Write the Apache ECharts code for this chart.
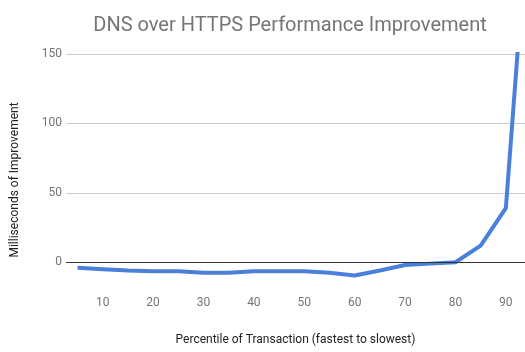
<!DOCTYPE html>
<html>
<head>
<meta charset="utf-8">
<script src="https://cdn.jsdelivr.net/npm/echarts@6/dist/echarts.min.js"></script>
<style>
    html, body { margin: 0; padding: 0; background: #fff; }
    #chart { width: 525px; height: 352px; }
</style>
</head>
<body>
<div id="chart"></div>
<script>
// percentile of transaction
const percentiles = [5, 10, 15, 20, 25, 30, 35, 40, 45, 50, 55, 60, 65, 70, 75, 80, 85, 90, 95];
// milliseconds of improvement (last one runs off the top of the chart)
const improvement = [-4, -5, -6, -6.5, -6.5, -7.5, -7.5, -6.5, -6.5, -6.5, -7.5, -9.5, -6, -2, -1, 0, 12, 39, 280];
const xTicks = [10, 20, 30, 40, 50, 60, 70, 80, 90];
const yTicks = [0, 50, 100, 150];

const chart = echarts.init(document.getElementById('chart'));
const option = {
    animation: false,
    title: {
        text: 'DNS over HTTPS Performance Improvement',
        left: 285,
        top: 11,
        textAlign: 'center',
        textStyle: {
            fontFamily: 'Roboto',
            fontSize: 20,
            fontWeight: 'normal',
            color: '#757575'
        }
    },
    grid: {
        left: 66,
        right: 0,
        top: 54,
        bottom: 62
    },
    xAxis: {
        type: 'value',
        min: 2.72,
        max: 93.8,
        name: 'Percentile of Transaction (fastest to slowest)',
        nameLocation: 'middle',
        nameGap: 44,
        nameTextStyle: { fontFamily: 'Roboto', fontSize: 12, color: '#222' },
        axisLine: { show: false },
        axisTick: { show: false, customValues: xTicks },
        splitLine: { show: false },
        axisLabel: {
            customValues: xTicks,
            margin: 7,
            fontFamily: 'Roboto',
            fontSize: 12,
            color: '#757575'
        }
    },
    yAxis: {
        type: 'value',
        min: -20,
        max: 150,
        name: 'Milliseconds of Improvement',
        nameLocation: 'middle',
        nameGap: 45,
        nameTextStyle: {
            fontFamily: 'Roboto',
            fontSize: 12,
            color: '#222',
            padding: [0, 16, 0, 0]
        },
        axisLine: { show: false },
        axisTick: { show: false, customValues: yTicks },
        axisLabel: {
            customValues: yTicks,
            margin: 4,
            fontFamily: 'Roboto',
            fontSize: 12,
            color: '#757575'
        },
        splitLine: { show: true, lineStyle: { color: '#cccccc', width: 1 } }
    },
    series: [{
        type: 'line',
        data: percentiles.map((p, i) => [p, improvement[i]]),
        symbol: 'none',
        clip: true,
        lineStyle: { color: '#4a80dc', width: 4 },
        markLine: {
            silent: true,
            symbol: 'none',
            label: { show: false },
            lineStyle: { color: '#333', type: 'solid', width: 1 },
            data: [{ yAxis: 0 }]
        }
    }]
};
chart.setOption(option);
</script>
</body>
</html>
